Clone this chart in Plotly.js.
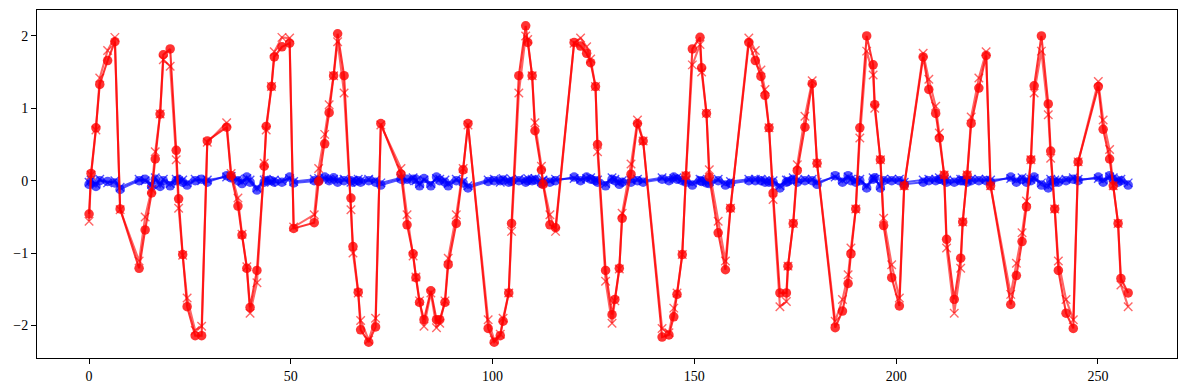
<!DOCTYPE html>
<html>
<head>
<meta charset="utf-8">
<script src="https://cdn.plot.ly/plotly-3.0.1.min.js"></script>
<style>html,body{margin:0;padding:0;background:#fff;}#chart{width:1189px;height:390px;}</style>
</head>
<body>
<div id="chart"></div>
<script>
var xVals = [0.0,0.5,1.7,2.65,4.6,6.4,7.7,12.4,13.9,15.5,16.4,17.6,18.4,20.1,21.6,22.2,23.2,24.3,26.3,27.9,29.3,34.1,35.2,36.9,37.9,39.1,39.9,41.6,43.4,43.9,45.2,45.9,47.8,49.7,50.7,55.8,56.9,58.4,59.5,60.6,61.6,63.2,64.9,65.4,66.7,67.3,69.3,71.0,72.3,77.3,78.8,80.3,81.0,81.9,83.0,84.7,86.1,86.9,88.2,89.0,91.0,92.7,93.9,98.9,100.4,101.9,102.6,104.0,104.7,106.5,108.2,108.7,109.8,110.5,112.1,112.5,114.2,115.6,120.2,121.8,123.3,124.3,125.5,126.0,128.0,129.6,130.3,131.4,132.1,134.3,135.9,137.3,142.0,143.7,144.9,145.7,147.0,147.9,149.5,151.4,151.8,153.0,153.7,155.9,157.7,158.95,163.5,165.1,166.5,167.5,168.5,169.5,171.2,172.8,173.2,174.5,175.5,177.4,179.2,180.4,184.9,186.7,188.1,188.8,190.0,191.0,192.7,194.3,194.7,196.1,196.9,198.9,200.8,202.0,206.7,208.1,209.8,210.7,211.9,212.5,214.4,216.0,216.5,217.6,218.6,220.5,222.3,223.4,228.4,229.8,231.2,232.3,233.4,234.2,236.0,237.7,238.3,239.3,240.2,242.1,243.9,245.1,250.1,251.3,252.9,253.8,255.0,255.7,257.5];

var redCircle = [-0.46,0.10,0.73,1.33,1.66,1.92,-0.39,-1.21,-0.68,-0.17,0.30,0.92,1.74,1.82,0.42,-0.25,-1.02,-1.74,-2.14,-2.14,0.55,0.74,0.07,-0.35,-0.75,-1.21,-1.75,-1.24,0.20,0.75,1.30,1.71,1.85,1.90,-0.66,-0.58,-0.01,0.51,0.94,1.45,2.03,1.45,-0.24,-0.91,-1.54,-2.06,-2.23,-2.02,0.79,0.09,-0.61,-1.01,-1.34,-1.68,-1.92,-1.52,-1.92,-1.92,-1.68,-1.16,-0.59,0.15,0.79,-2.04,-2.23,-2.14,-1.94,-1.55,-0.59,1.45,2.14,1.91,1.45,0.69,0.15,-0.05,-0.61,-0.65,1.91,1.86,1.76,1.63,1.30,0.50,-1.24,-1.85,-1.64,-1.21,-0.52,0.09,0.79,0.55,-2.16,-2.13,-1.88,-1.57,-1.02,0.07,1.82,1.98,1.56,0.93,0.05,-0.72,-1.23,-0.38,1.91,1.66,1.44,1.18,0.73,-0.17,-1.55,-1.55,-1.18,-0.59,0.14,0.74,1.34,0.24,-2.03,-1.80,-1.42,-1.01,-0.39,0.73,2.00,1.60,1.05,0.29,-0.62,-1.34,-1.73,-0.07,1.71,1.26,0.93,0.59,0.08,-0.81,-1.64,-1.07,-0.57,0.08,0.79,1.28,1.73,-0.07,-1.71,-1.31,-0.84,-0.36,0.29,1.31,2.00,1.06,0.41,-0.39,-1.24,-1.83,-2.04,0.26,1.30,0.71,0.30,-0.07,-0.59,-1.35,-1.55];

var redCross = [-0.56,0.08,0.70,1.42,1.80,1.98,-0.40,-1.11,-0.50,-0.12,0.40,0.92,1.67,1.58,0.29,-0.38,-1.03,-1.62,-2.07,-2.01,0.53,0.80,0.10,-0.24,-0.74,-1.19,-1.83,-1.41,0.24,0.70,1.30,1.78,1.98,1.97,-0.64,-0.47,0.17,0.64,1.05,1.45,1.92,1.21,-0.40,-1.00,-1.55,-1.93,-2.20,-1.90,0.77,0.17,-0.47,-1.04,-1.33,-1.66,-2.01,-1.55,-2.03,-1.97,-1.66,-1.07,-0.47,0.17,0.77,-1.92,-2.20,-2.12,-1.90,-1.55,-0.70,1.21,2.00,1.95,1.45,0.80,0.20,-0.03,-0.47,-0.70,1.90,1.97,1.85,1.68,1.30,0.40,-1.39,-1.97,-1.66,-1.22,-0.45,0.23,0.84,0.55,-2.04,-2.10,-1.76,-1.55,-1.02,0.07,1.60,1.88,1.50,0.93,0.15,-0.56,-1.11,-0.38,1.97,1.80,1.53,1.26,0.73,-0.26,-1.74,-1.67,-1.18,-0.59,0.22,0.89,1.38,0.24,-1.94,-1.64,-1.30,-0.93,-0.39,0.59,1.79,1.46,1.00,0.29,-0.52,-1.16,-1.62,-0.07,1.76,1.40,1.03,0.66,0.08,-0.93,-1.83,-1.21,-0.57,0.08,0.88,1.42,1.78,-0.07,-1.57,-1.14,-0.72,-0.28,0.29,1.21,1.79,0.91,0.31,-0.39,-1.11,-1.64,-1.92,0.26,1.37,0.84,0.43,-0.07,-0.59,-1.44,-1.74];

var blueCircle = [-0.05,-0.02,-0.08,0.00,-0.01,-0.03,-0.12,0.00,0.02,-0.08,0.02,-0.08,0.00,-0.07,0.00,0.02,-0.02,-0.06,0.00,0.02,-0.02,0.07,0.04,0.00,-0.04,0.05,-0.02,-0.13,-0.02,0.00,0.00,-0.02,-0.02,0.05,-0.03,0.00,0.00,0.05,0.00,0.04,-0.02,0.00,0.00,-0.02,0.00,-0.02,0.00,-0.02,-0.06,0.02,0.02,0.02,0.02,-0.07,0.03,-0.07,0.05,0.00,-0.02,-0.07,0.00,-0.03,-0.10,-0.01,0.00,0.00,0.01,-0.02,-0.01,0.00,-0.02,0.00,0.00,0.01,-0.04,-0.02,-0.02,0.00,0.05,0.00,0.05,0.02,0.00,-0.02,-0.07,0.02,0.00,-0.05,-0.02,-0.02,0.00,-0.02,0.02,0.00,0.05,0.02,0.00,-0.02,-0.06,0.00,-0.01,-0.03,-0.04,0.00,-0.06,-0.04,0.00,0.00,0.00,-0.02,-0.02,-0.02,-0.10,-0.02,-0.01,0.02,-0.02,0.00,0.00,-0.05,0.07,-0.02,0.07,0.00,-0.02,0.00,-0.10,0.02,0.04,-0.10,0.00,0.00,0.00,-0.05,-0.02,0.00,0.00,0.02,0.00,-0.02,-0.02,0.00,0.00,-0.02,0.00,0.00,0.00,-0.02,0.05,-0.02,0.02,-0.02,0.00,0.05,-0.06,-0.10,0.00,-0.02,-0.02,0.00,0.02,0.00,0.05,-0.02,0.07,0.02,-0.02,0.00,-0.06];

var blueCross = [-0.02,0.01,-0.05,0.02,-0.03,0.00,-0.09,0.02,0.00,-0.05,0.04,-0.05,0.02,-0.04,0.02,0.00,0.01,-0.03,0.02,0.00,0.01,0.05,0.06,0.02,-0.01,0.03,0.01,-0.10,0.01,0.02,-0.02,0.01,0.00,0.03,-0.01,0.02,0.03,0.03,0.02,0.02,0.01,0.02,-0.02,0.01,0.02,0.00,0.02,0.01,-0.03,0.04,0.00,0.04,0.00,-0.04,0.01,-0.04,0.03,0.02,0.01,-0.04,0.02,-0.01,-0.07,0.01,0.02,-0.02,0.03,0.00,0.02,0.02,0.01,0.03,0.02,0.03,-0.01,0.01,0.00,0.02,0.03,0.02,0.03,0.04,0.02,0.01,-0.04,0.04,0.02,-0.02,0.00,0.01,0.02,0.00,0.04,0.02,0.03,0.04,0.02,0.01,-0.03,0.02,0.01,-0.01,-0.01,0.02,-0.03,-0.01,0.02,0.02,0.02,0.00,0.01,0.00,-0.07,0.01,0.01,0.04,0.01,0.02,0.02,-0.02,0.05,0.01,0.05,0.02,0.01,0.02,-0.07,0.04,0.02,-0.07,0.02,0.02,0.02,-0.02,0.01,0.02,0.02,0.04,0.02,0.01,0.00,0.02,0.02,0.01,0.02,0.02,0.02,0.01,0.03,0.01,0.04,0.01,0.02,0.03,-0.03,-0.07,0.02,0.01,0.01,0.02,0.04,0.02,0.03,0.01,0.05,0.04,0.01,0.02,-0.03];

var xTicks = [0, 50, 100, 150, 200, 250];
var yTicks = [-2, -1, 0, 1, 2];

var blueC = 'rgba(0,0,255,0.68)';
var redC = 'rgba(255,0,0,0.8)';
var redX = 'rgba(255,0,0,0.6)';

var traces = [
  {x: xVals, y: blueCircle, mode: 'lines+markers', type: 'scatter',
   line: {color: blueC, width: 2}, marker: {symbol: 'circle', size: 9.5, color: blueC, line: {width: 0}}},
  {x: xVals, y: blueCross, mode: 'lines+markers', type: 'scatter',
   line: {color: blueC, width: 2}, marker: {symbol: 'x-thin-open', size: 8.5, color: blueC, line: {width: 1.4, color: blueC}}},
  {x: xVals, y: redCircle, mode: 'lines+markers', type: 'scatter',
   line: {color: redC, width: 2.1}, marker: {symbol: 'circle', size: 9.5, color: redC, line: {width: 0}}},
  {x: xVals, y: redCross, mode: 'lines+markers', type: 'scatter',
   line: {color: redX, width: 2.1}, marker: {symbol: 'x-thin-open', size: 8.5, color: redX, line: {width: 1.4, color: redX}}}
];

var layout = {
  width: 1189, height: 390,
  margin: {l: 37, r: 12, t: 10, b: 32, pad: 0},
  paper_bgcolor: '#ffffff', plot_bgcolor: '#ffffff',
  showlegend: false,
  font: {family: 'Liberation Serif, DejaVu Serif, serif', size: 14, color: '#000'},
  xaxis: {range: [-12.9, 269.6], tickvals: xTicks, ticktext: xTicks.map(String), showgrid: false, zeroline: false,
          showline: true, mirror: true, linecolor: '#000', linewidth: 1, ticks: 'outside', ticklen: 5, tickwidth: 1, tickcolor: '#000'},
  yaxis: {range: [-2.449, 2.358], tickvals: yTicks, showgrid: false, zeroline: false,
          showline: true, mirror: true, linecolor: '#000', linewidth: 1, ticks: 'outside', ticklen: 5, tickwidth: 1, tickcolor: '#000'}
};

Plotly.newPlot('chart', traces, layout, {displayModeBar: false, staticPlot: true});
</script>
</body>
</html>
